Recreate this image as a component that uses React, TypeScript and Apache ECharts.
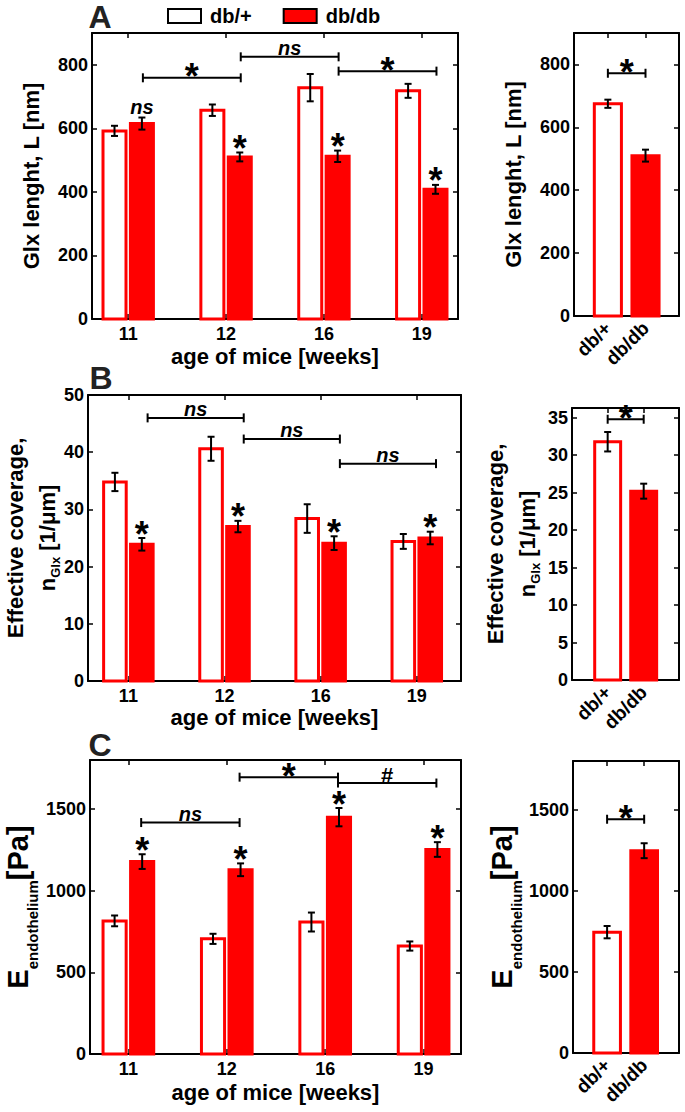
import React, { useEffect, useRef } from 'react';
import * as echarts from 'echarts';

const FONT = "'Liberation Sans', Arial, Helvetica, sans-serif";

// ---------- data ----------
const weeks = ['11', '12', '16', '19'];
const groups = ['db/+', 'db/db'];

// Panel A: glycocalyx length [nm]
const lengthHet = [592, 657, 728, 718];
const lengthHetErr = [16, 18, 43, 22];
const lengthDb = [615, 510, 512, 408];
const lengthDbErr = [19, 14, 18, 14];
const lengthDbMarks = ['ns', '*', '*', '*'];
const lengthPooled = [675, 510];
const lengthPooledErr = [13, 19];
const lengthTicks = [0, 200, 400, 600, 800];
const lengthBrackets = [
  { from: '11', to: '12', y: 759, text: '*' },
  { from: '12', to: '16', y: 825, text: 'ns' },
  { from: '16', to: '19', y: 780, text: '*' },
];
const lengthPooledBrackets = [{ from: 'db/+', to: 'db/db', y: 772, text: '*' }];

// Panel B: effective coverage [1/um]
const coverageHet = [34.8, 40.6, 28.4, 24.4];
const coverageHetErr = [1.6, 2.1, 2.5, 1.3];
const coverageDb = [23.9, 27.0, 24.1, 25.0];
const coverageDbErr = [1.1, 1.0, 1.2, 1.1];
const coverageDbMarks = ['*', '*', '*', '*'];
const coveragePooled = [31.8, 25.2];
const coveragePooledErr = [1.3, 1.0];
const coverageTicks = [0, 10, 20, 30, 40, 50];
const coveragePooledTicks = [0, 5, 10, 15, 20, 25, 30, 35];
const coverageBrackets = [
  { from: '11', to: '12', y: 46.0, text: 'ns' },
  { from: '12', to: '16', y: 42.3, text: 'ns' },
  { from: '16', to: '19', y: 38.0, text: 'ns' },
];
const coveragePooledBrackets = [{ from: 'db/+', to: 'db/db', y: 34.8, text: '*' }];

// Panel C: endothelium modulus [Pa]
const modulusHet = [815, 705, 808, 661];
const modulusHetErr = [33, 31, 58, 28];
const modulusDb = [1178, 1128, 1450, 1252];
const modulusDbErr = [45, 39, 56, 45];
const modulusDbMarks = ['*', '*', '*', '*'];
const modulusPooled = [745, 1247];
const modulusPooledErr = [38, 46];
const modulusTicks = [0, 500, 1000, 1500];
const modulusBrackets = [
  { from: '11', to: '12', y: 1417, text: 'ns' },
  { from: '12', to: '16', y: 1695, text: '*' },
  { from: '16', to: '19', y: 1659, text: '#' },
];
const modulusPooledBrackets = [{ from: 'db/+', to: 'db/db', y: 1441, text: '*' }];

// ---------- helpers ----------
type Bracket = { from: string; to: string; y: number; text: string };

const RED = '#ff0000';

function barSeries(name: string, gi: number, data: number[][], offset: number, halfW: number, fill: string) {
  return {
    type: 'custom',
    name,
    xAxisIndex: gi * 2,
    yAxisIndex: gi * 2,
    data,
    encode: { x: 0, y: 1 },
    itemStyle: { color: fill },
    z: 3,
    renderItem: (params: any, api: any) => {
      const x = api.value(0) + offset;
      const v = api.value(1);
      const e = api.value(2);
      const p0 = api.coord([x - halfW, 0]);
      const p1 = api.coord([x + halfW, v]);
      const eLo = api.coord([x, v - e]);
      const eHi = api.coord([x, v + e]);
      const cap = 3.5;
      const line = (x1: number, y1: number, x2: number, y2: number) => ({
        type: 'line',
        shape: { x1, y1, x2, y2 },
        style: { stroke: '#000', lineWidth: 2 },
      });
      return {
        type: 'group',
        children: [
          {
            type: 'rect',
            shape: { x: p0[0], y: p1[1], width: p1[0] - p0[0], height: p0[1] - p1[1] },
            style: { fill, stroke: RED, lineWidth: 3 },
          },
          line(eLo[0], eLo[1], eHi[0], eHi[1]),
          line(eLo[0] - cap, eLo[1], eLo[0] + cap, eLo[1]),
          line(eHi[0] - cap, eHi[1], eHi[0] + cap, eHi[1]),
        ],
      };
    },
  };
}

function textStyleFor(text: string) {
  if (text === '*') return { fontSize: 36, fontWeight: 'bold', fontStyle: 'normal' };
  if (text === '#') return { fontSize: 22, fontWeight: 'bold', fontStyle: 'normal' };
  return { fontSize: 20, fontWeight: 'bold', fontStyle: 'italic' };
}

function markSeries(gi: number, data: number[][], offset: number, marks: string[]) {
  return {
    type: 'custom',
    xAxisIndex: gi * 2,
    yAxisIndex: gi * 2,
    data,
    encode: { x: 0, y: 1 },
    z: 4,
    silent: true,
    renderItem: (params: any, api: any) => {
      const x = api.value(0) + offset;
      const top = api.value(1) + api.value(2);
      const p = api.coord([x, top]);
      const text = marks[params.dataIndex];
      const dy = text === '*' ? -4 : -11;
      return {
        type: 'text',
        x: p[0],
        y: p[1] + dy,
        style: {
          text,
          fill: '#000',
          fontFamily: FONT,
          ...textStyleFor(text),
          align: 'center',
          verticalAlign: 'middle',
        },
      };
    },
  };
}

function bracketSeries(gi: number, brackets: Bracket[], cats: string[], off: number) {
  const data = brackets.map((b) => [cats.indexOf(b.from) + 1 + off, cats.indexOf(b.to) + 1 + off, b.y]);
  return {
    type: 'custom',
    xAxisIndex: gi * 2,
    yAxisIndex: gi * 2,
    data,
    encode: { x: [0, 1], y: 2 },
    z: 4,
    silent: true,
    renderItem: (params: any, api: any) => {
      const a = api.coord([api.value(0), api.value(2)]);
      const b = api.coord([api.value(1), api.value(2)]);
      const text = brackets[params.dataIndex].text;
      const st = { stroke: '#000', lineWidth: 2 };
      const h = 4.5;
      const dy = text === '*' ? -1 : text === '#' ? -8 : -9;
      return {
        type: 'group',
        children: [
          { type: 'line', shape: { x1: a[0], y1: a[1], x2: b[0], y2: b[1] }, style: st },
          { type: 'line', shape: { x1: a[0], y1: a[1] - h, x2: a[0], y2: a[1] + h }, style: st },
          { type: 'line', shape: { x1: b[0], y1: b[1] - h, x2: b[0], y2: b[1] + h }, style: st },
          {
            type: 'text',
            x: (a[0] + b[0]) / 2,
            y: a[1] + dy,
            style: {
              text,
              fill: '#000',
              fontFamily: FONT,
              ...textStyleFor(text),
              align: 'center',
              verticalAlign: 'middle',
            },
          },
        ],
      };
    },
  };
}

const axisLine = { show: true, onZero: false, lineStyle: { color: '#000', width: 2 } };
const tickStyle = { color: '#000', width: 1.5 };

function xAxes(gi: number, min: number, max: number, labels: string[], pooled: boolean, nameGap: number) {
  const ticks = labels.map((_, i) => i + 1);
  return [
    {
      gridIndex: gi,
      type: 'value',
      position: 'bottom',
      min,
      max,
      axisLine,
      splitLine: { show: false },
      axisTick: { show: true, inside: true, length: 5, lineStyle: tickStyle, customValues: ticks },
      axisLabel: {
        customValues: ticks,
        formatter: (v: number) => labels[Math.round(v) - 1] ?? '',
        color: '#000',
        fontFamily: FONT,
        fontWeight: 'bold',
        fontSize: pooled ? 19 : 18,
        margin: pooled ? 9 : 6,
        rotate: pooled ? 45 : 0,
      },
      name: pooled ? '' : 'age of mice [weeks]',
      nameLocation: 'middle',
      nameGap,
      nameMoveOverlap: false,
      nameTextStyle: { color: '#000', fontFamily: FONT, fontWeight: 'bold', fontSize: 22 },
    },
    {
      gridIndex: gi,
      type: 'value',
      position: 'top',
      min,
      max,
      axisLine,
      splitLine: { show: false },
      axisTick: { show: true, inside: true, length: 5, lineStyle: tickStyle, customValues: ticks },
      axisLabel: { show: false },
    },
  ];
}

function yAxes(gi: number, max: number, ticks: number[], name: string, nameGap: number, rich?: any, lineHeight?: number) {
  return [
    {
      gridIndex: gi,
      type: 'value',
      position: 'left',
      min: 0,
      max,
      axisLine,
      splitLine: { show: false },
      axisTick: { show: true, inside: true, length: 5, lineStyle: tickStyle, customValues: ticks },
      axisLabel: {
        customValues: ticks,
        formatter: (v: number) => String(v),
        color: '#000',
        fontFamily: FONT,
        fontWeight: 'bold',
        fontSize: 18,
        margin: 4,
      },
      name,
      nameLocation: 'middle',
      nameRotate: 90,
      nameGap,
      nameMoveOverlap: false,
      nameTextStyle: {
        color: '#000',
        fontFamily: FONT,
        fontWeight: 'bold',
        fontSize: 22,
        ...(lineHeight ? { lineHeight } : {}),
        ...(rich ? { rich } : {}),
      },
    },
    {
      gridIndex: gi,
      type: 'value',
      position: 'right',
      min: 0,
      max,
      axisLine,
      splitLine: { show: false },
      axisTick: { show: true, inside: true, length: 5, lineStyle: tickStyle, customValues: ticks },
      axisLabel: { show: false },
    },
  ];
}

function mainPanel(gi: number, het: number[], hetErr: number[], db: number[], dbErr: number[], marks: string[], brackets: Bracket[], bracketOff: number) {
  const hetData = weeks.map((_, i) => [i + 1, het[i], hetErr[i]]);
  const dbData = weeks.map((_, i) => [i + 1, db[i], dbErr[i]]);
  const halfW = 0.1175;
  return [
    barSeries(groups[0], gi, hetData, -0.14, halfW, '#ffffff'),
    barSeries(groups[1], gi, dbData, 0.14, halfW, RED),
    markSeries(gi, dbData, 0.14, marks),
    bracketSeries(gi, brackets, weeks, bracketOff),
  ];
}

function pooledPanel(gi: number, vals: number[], errs: number[], brackets: Bracket[]) {
  const halfW = 0.36;
  return [
    barSeries(groups[0], gi, [[1, vals[0], errs[0]]], 0, halfW, '#ffffff'),
    barSeries(groups[1], gi, [[2, vals[1], errs[1]]], 0, halfW, RED),
    bracketSeries(gi, brackets, groups, 0),
  ];
}

const richCoverage = {
  n: { fontFamily: FONT, fontWeight: 'bold', fontSize: 22, lineHeight: 26, verticalAlign: 'top' },
  sub: { fontFamily: FONT, fontWeight: 'bold', fontSize: 13, lineHeight: 10, verticalAlign: 'bottom' },
};
const richModulus = {
  E: { fontFamily: FONT, fontWeight: 'bold', fontSize: 29, lineHeight: 37, verticalAlign: 'top' },
  sub: { fontFamily: FONT, fontWeight: 'bold', fontSize: 15, lineHeight: 12, verticalAlign: 'bottom' },
};

function buildOption() {
  const g = (left: number, top: number, width: number, height: number) => ({
    left,
    top,
    width,
    height,
    outerBoundsMode: 'none',
    containLabel: false,
  });
  const grid = [
    g(92, 33, 366, 286),
    g(574, 33, 105, 283),
    g(88, 395, 373, 286),
    g(572, 408, 107, 272),
    g(90, 760, 371, 294),
    g(573, 761, 106, 292),
  ];
  const xAxis = [
    ...xAxes(0, 0.63, 4.37, weeks, false, 26),
    ...xAxes(1, 0.1, 2.89, groups, true, 0),
    ...xAxes(2, 0.58, 4.46, weeks, false, 25),
    ...xAxes(3, 0.01, 2.98, groups, true, 0),
    ...xAxes(4, 0.61, 4.38, weeks, false, 27),
    ...xAxes(5, 0.08, 2.94, groups, true, 0),
  ];
  const coverageName = 'Effective coverage,\n{n|n}{sub|Glx}{n| [1/\u03bcm]}';
  const modulusName = '{E|E}{sub|endothelium}{E|[Pa]}';
  const yAxis = [
    ...yAxes(0, 900, lengthTicks, 'Glx lenght, L [nm]', 50),
    ...yAxes(1, 900, lengthTicks, 'Glx lenght, L [nm]', 50),
    ...yAxes(2, 50, coverageTicks, coverageName, 26, richCoverage, 42),
    ...yAxes(3, 36.3, coveragePooledTicks, coverageName, 30, richCoverage, 42),
    ...yAxes(4, 1800, modulusTicks, modulusName, 50, richModulus),
    ...yAxes(5, 1800, modulusTicks, modulusName, 49, richModulus),
  ];
  const series = [
    ...mainPanel(0, lengthHet, lengthHetErr, lengthDb, lengthDbErr, lengthDbMarks, lengthBrackets, 0.15),
    ...pooledPanel(1, lengthPooled, lengthPooledErr, lengthPooledBrackets),
    ...mainPanel(2, coverageHet, coverageHetErr, coverageDb, coverageDbErr, coverageDbMarks, coverageBrackets, 0.2),
    ...pooledPanel(3, coveragePooled, coveragePooledErr, coveragePooledBrackets),
    ...mainPanel(4, modulusHet, modulusHetErr, modulusDb, modulusDbErr, modulusDbMarks, modulusBrackets, 0.13),
    ...pooledPanel(5, modulusPooled, modulusPooledErr, modulusPooledBrackets),
  ];
  const letter = (t: string, x: number, y: number) => ({
    type: 'text',
    x,
    y,
    style: {
      text: t,
      fill: '#222',
      fontFamily: FONT,
      fontWeight: 'bold',
      fontSize: 32,
      align: 'center',
      verticalAlign: 'middle',
    },
  });
  return {
    animation: false,
    backgroundColor: '#ffffff',
    grid,
    xAxis,
    yAxis,
    series,
    legend: {
      left: 167,
      top: 6,
      padding: 0,
      itemWidth: 33,
      itemHeight: 14,
      itemGap: 31,
      selectedMode: false,
      data: [
        { name: groups[0], icon: 'rect', itemStyle: { color: '#ffffff', borderColor: '#000', borderWidth: 2 } },
        { name: groups[1], icon: 'rect', itemStyle: { color: RED, borderColor: '#000', borderWidth: 2 } },
      ],
      textStyle: { fontFamily: FONT, fontWeight: 'bold', fontSize: 20, color: '#000', padding: [0, 0, 0, 4] },
    },
    graphic: [letter('A', 100, 17), letter('B', 101, 378), letter('C', 100, 745)],
  };
}

export default function App() {
  const ref = useRef<HTMLDivElement>(null);
  useEffect(() => {
    if (!ref.current) return;
    const chart = echarts.init(ref.current, undefined, { renderer: 'svg' });
    chart.setOption(buildOption() as any);
    return () => chart.dispose();
  }, []);
  return (
    <div
      ref={ref}
      style={{ position: 'absolute', left: 0, top: 0, width: 685, height: 1112, background: '#fff' }}
    />
  );
}
